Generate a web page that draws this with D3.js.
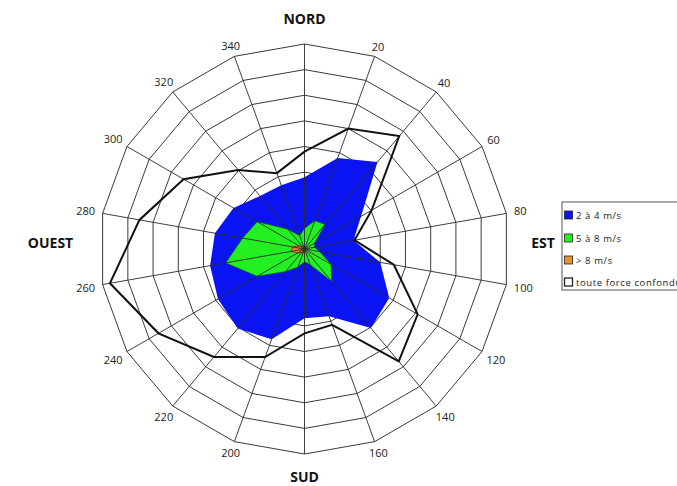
<!DOCTYPE html>
<html><head><meta charset="utf-8">
<script src="https://cdn.jsdelivr.net/npm/d3@7"></script>
<style>body{margin:0;background:#fff}svg{display:block}</style>
</head><body>
<svg id="c" width="677" height="486"></svg>
<script>
const directions = [0,20,40,60,80,100,120,140,160,180,200,220,240,260,280,300,320,340];
const tickLabels = ["","20","40","60","80","100","120","140","160","","200","220","240","260","280","300","320","340"];
const ringLevels = [1,2,3,4,5,6,7,8];
const seriesNames = ["2 à 4 m/s","5 à 8 m/s","> 8 m/s","toute force confondue"];
const blue   = [2.8,3.78,4.43,2.55,1.94,3.0,3.82,4.03,2.79,2.7,3.75,4.05,3.9,3.74,3.55,3.2,2.7,2.65];
const green  = [0.8,1.17,1.25,0.45,0.4,0.6,1.2,1.65,0.65,0.5,0.75,1.15,2.13,3.12,2.45,2.13,1.0,0.55];
const orange = [0.08,0.08,0.06,0.05,0.05,0.05,0.06,0.08,0.08,0.1,0.15,0.2,0.3,0.55,0.45,0.25,0.12,0.08];
const total  = [3.8,5.0,5.75,3.03,1.98,3.54,5.1,5.72,3.15,3.29,4.49,5.5,6.58,7.71,6.54,5.45,4.03,3.15];
const cardinals = [["NORD",0],["EST",90],["SUD",180],["OUEST",270]];

const svg = d3.select("#c");
const cx = 304.5, cy = 249, R = 205;
const r = d3.scaleLinear().domain([0,8]).range([0,R]);
const ang = d3.scaleLinear().domain([0,360]).range([0,2*Math.PI]);
const g = svg.append("g").attr("transform",`translate(${cx},${cy})`);
const pt = (deg, v) => [Math.sin(ang(deg))*r(v), -Math.cos(ang(deg))*r(v)];
const radial = d3.lineRadial().angle((d,i)=>ang(directions[i])).radius(d=>r(d)).curve(d3.curveLinearClosed);

// rings
g.selectAll(".ring").data(ringLevels).join("path")
  .attr("d", lv => radial(directions.map(()=>lv)))
  .attr("fill","none").attr("stroke","#3a3a3a").attr("stroke-width",1);

// filled series
g.append("path").attr("d", radial(blue)).attr("fill","#0a14f2").attr("stroke","none");
g.append("path").attr("d", radial(green)).attr("fill","#22f020").attr("stroke","#0b5d0b").attr("stroke-width",0.6);
g.append("path").attr("d", radial(orange)).attr("fill","#e8802c").attr("stroke","#7a2a10").attr("stroke-width",0.8);

// spokes
g.selectAll(".spoke").data(directions).join("line")
  .attr("x1",0).attr("y1",0)
  .attr("x2", d=>pt(d,8)[0]).attr("y2", d=>pt(d,8)[1])
  .attr("stroke","#2a2a2a").attr("stroke-width",0.9);

// total line
g.append("path").attr("d", radial(total)).attr("fill","none").attr("stroke","#111").attr("stroke-width",2);

// tick labels
g.selectAll(".tl").data(directions.filter((d,i)=>tickLabels[i]!=="")).join("text")
  .each(function(d){
    const lab = tickLabels[directions.indexOf(d)];
    const hw = lab.length*3.1;
    const rr = R + 8 + hw*Math.abs(Math.sin(ang(d)));
    d3.select(this).attr("x", Math.sin(ang(d))*rr).attr("y", -Math.cos(ang(d))*rr).text(lab);
  })
  .attr("text-anchor","middle").attr("dominant-baseline","central")
  .attr("font-family","'Open Sans', sans-serif").attr("font-size",11).attr("fill","#222");

// cardinal labels
const cpos = {NORD:[0,-231],EST:[238.5,-7],SUD:[0,227],OUEST:[-254,-7]};
g.selectAll(".card").data(cardinals).join("text")
  .attr("x", d=>cpos[d[0]][0]).attr("y", d=>cpos[d[0]][1])
  .attr("text-anchor","middle").attr("dominant-baseline","central")
  .attr("font-family","'Open Sans', sans-serif").attr("font-weight","bold").attr("font-size",14)
  .attr("fill","#111").text(d=>d[0]);

// legend
const lg = svg.append("g").attr("transform","translate(562,202)");
lg.append("rect").attr("x",0).attr("y",0).attr("width",140).attr("height",88)
  .attr("fill","#fff").attr("stroke","#555").attr("stroke-width",1);
const lcol = ["#0a14f2","#22f020","#e8902c","#fff"];
const ly = [13,36,58,80];
seriesNames.forEach((n,i)=>{
  lg.append("rect").attr("x",2.5).attr("y",ly[i]-4).attr("width",8).attr("height",8)
    .attr("fill",lcol[i]).attr("stroke","#222").attr("stroke-width",i===3?1.3:0.8);
  lg.append("text").attr("x",14).attr("y",ly[i]).attr("dominant-baseline","central")
    .attr("font-family","'Open Sans', sans-serif").attr("font-size",9.5).attr("letter-spacing",0.6)
    .attr("fill","#222").text(n);
});
</script>
</body></html>
